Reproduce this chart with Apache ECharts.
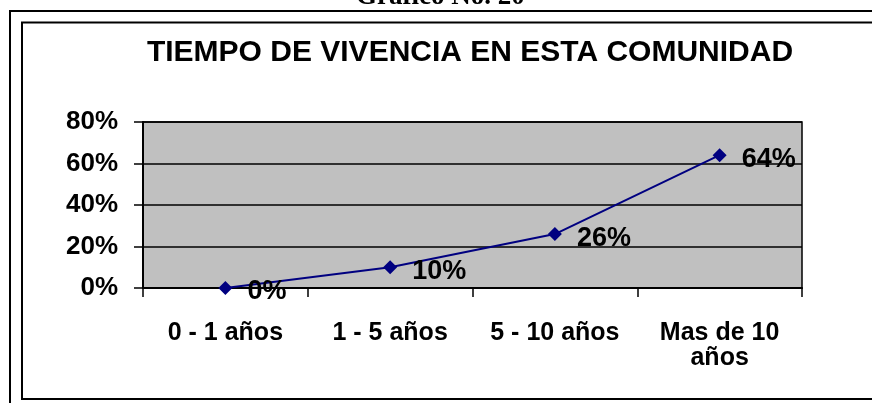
<!DOCTYPE html>
<html>
<head>
<meta charset="utf-8">
<script src="https://cdn.jsdelivr.net/npm/echarts@6/dist/echarts.min.js"></script>
<style>
  html, body { margin: 0; padding: 0; background: #fff; }
  #chart { width: 872px; height: 403px; }
</style>
</head>
<body>
<div id="chart"></div>
<script>
const categories = ['0 - 1 años', '1 - 5 años', '5 - 10 años', 'Mas de 10\naños'];
const values = [0, 10, 26, 64];
const yTicks = [0, 20, 40, 60, 80];

const font = 'Arial, "Liberation Sans", sans-serif';
const chart = echarts.init(document.getElementById('chart'));

chart.setOption({
  animation: false,
  backgroundColor: '#fff',
  title: {
    text: 'TIEMPO DE VIVENCIA EN ESTA COMUNIDAD',
    left: 465,
    top: 33,
    textAlign: 'center',
    textStyle: { fontFamily: font, fontSize: 30, fontWeight: 'bold', color: '#000' }
  },
  graphic: [
    { type: 'text', left: 356, top: -16, style: {
        text: 'Gráfico No. 20', font: 'bold 27px "Liberation Serif", "Times New Roman", serif', fill: '#000' } },
    { type: 'rect', shape: { x: 10, y: 11, width: 900, height: 500 },
      style: { fill: 'none', stroke: '#000', lineWidth: 2 } },
    { type: 'rect', shape: { x: 22, y: 22.5, width: 900, height: 376.5 },
      style: { fill: 'none', stroke: '#000', lineWidth: 2 } }
  ],
  grid: {
    left: 143, right: 70, top: 122, bottom: 115,
    show: true, backgroundColor: '#C0C0C0', borderColor: '#000', borderWidth: 1.5
  },
  xAxis: {
    type: 'category',
    data: categories,
    boundaryGap: true,
    axisLine: { lineStyle: { color: '#000', width: 2 } },
    axisTick: { show: true, length: 9, lineStyle: { color: '#000', width: 1.5 } },
    axisLabel: {
      margin: 33, interval: 0, color: '#000', fontFamily: font,
      fontSize: 25, fontWeight: 'bold', lineHeight: 25
    }
  },
  yAxis: {
    type: 'value',
    min: yTicks[0], max: yTicks[yTicks.length - 1], interval: 20,
    axisLine: { show: true, lineStyle: { color: '#000', width: 2 } },
    axisTick: { show: true, length: 9, lineStyle: { color: '#000', width: 1.5 } },
    splitLine: { lineStyle: { color: '#000', width: 1.5 } },
    axisLabel: {
      margin: 25, color: '#000', fontFamily: font, fontSize: 26, fontWeight: 'bold',
      formatter: '{value}%'
    }
  },
  series: [{
    type: 'line',
    data: values,
    symbol: 'diamond',
    symbolSize: 14,
    itemStyle: { color: '#000080' },
    lineStyle: { color: '#000080', width: 2 },
    label: {
      show: true, position: 'right', distance: 15, offset: [0, 4],
      formatter: '{c}%', color: '#000', fontFamily: font, fontSize: 27, fontWeight: 'bold'
    }
  }]
});
</script>
</body>
</html>
